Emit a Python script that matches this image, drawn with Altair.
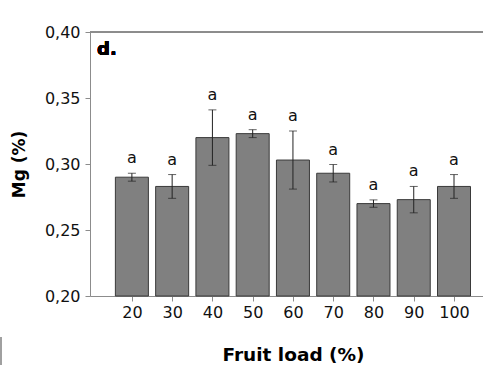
import altair as alt
import pandas as pd

# Fruit load treatments (%) and leaf Mg concentration (%)
loads = [20, 30, 40, 50, 60, 70, 80, 90, 100]
mg = [0.290, 0.283, 0.320, 0.323, 0.303, 0.293, 0.270, 0.273, 0.283]
se = [0.003, 0.009, 0.021, 0.003, 0.022, 0.0066, 0.0028, 0.010, 0.009]
letters = ["a", "a", "a", "a", "a", "a", "a", "a", "a"]

df = pd.DataFrame({"load": loads, "mg": mg, "se": se, "letter": letters})
df["lo"] = df["mg"] - df["se"]
df["hi"] = df["mg"] + df["se"]

W, H = 393, 264
FONT = "DejaVu Sans"
AXIS_GRAY = "#8c8c8c"

x_scale = alt.Scale(domain=[9.6, 107.2], nice=False, zero=False, padding=0)
y_scale = alt.Scale(domain=[0.20, 0.40], nice=False, zero=False, padding=0)

x_axis = alt.Axis(
    values=loads, title="Fruit load (%)", grid=False,
    domainColor=AXIS_GRAY, tickColor=AXIS_GRAY, tickSize=5,
    labelFont=FONT, labelFontSize=16, labelColor="#111", labelPadding=3,
    titleFont=FONT, titleFontSize=18.5, titleFontWeight="bold", titleColor="#000",
    titleX=203, titleY=58, titleBaseline="middle", titleAlign="center",
)
y_axis = alt.Axis(
    values=[0.20, 0.25, 0.30, 0.35, 0.40], title="Mg (%)", grid=False,
    labelExpr="replace(format(datum.value, '.2f'), '.', ',')",
    domainColor=AXIS_GRAY, tickColor=AXIS_GRAY, tickSize=5,
    labelFont=FONT, labelFontSize=16, labelColor="#111", labelPadding=5,
    titleFont=FONT, titleFontSize=17, titleFontWeight="bold", titleColor="#000",
    titleX=-71, titleY=132, titleAngle=-90, titleBaseline="middle", titleAlign="center",
)

base = alt.Chart(df)

bars = base.mark_bar(size=33, color="#808080", stroke="#3a3a3a", strokeWidth=1).encode(
    x=alt.X("load:Q", scale=x_scale, axis=x_axis),
    y=alt.Y("mg:Q", scale=y_scale, axis=y_axis),
    y2=alt.datum(0.20),
)

whisker = base.mark_rule(color="#222", strokeWidth=1).encode(
    x="load:Q", y="lo:Q", y2="hi:Q"
)
cap_hi = base.mark_tick(orient="horizontal", size=8, thickness=1, color="#222").encode(
    x="load:Q", y="hi:Q"
)
cap_lo = base.mark_tick(orient="horizontal", size=8, thickness=1, color="#222").encode(
    x="load:Q", y="lo:Q"
)

labels = base.mark_text(font=FONT, fontSize=16, baseline="alphabetic", dy=-10, color="#111").encode(
    x="load:Q", y="hi:Q", text="letter:N"
)

# top frame line of the panel
top_line = alt.Chart(df).mark_rule(color=AXIS_GRAY, strokeWidth=1).encode(
    x=alt.value(0), x2=alt.value(W), y=alt.value(0)
)

# edge of the neighbouring frame at the bottom-left corner
edge_line = alt.Chart(df).mark_rule(color="#a0a0a0", strokeWidth=1.5).encode(
    x=alt.value(-89), y=alt.value(305), y2=alt.value(333)
)

panel = alt.Chart(df).mark_text(
    font=FONT, fontSize=18, fontWeight="bold", align="left", baseline="alphabetic", color="#000"
).encode(x=alt.value(7), y=alt.value(23), text=alt.value("d."))

chart = alt.layer(bars, whisker, cap_hi, cap_lo, labels, top_line, edge_line, panel).properties(
    width=W, height=H,
    autosize=alt.AutoSizeParams(type="none"),
    padding={"left": 90, "top": 32, "right": 0, "bottom": 69},
).configure_view(stroke=None).configure(background="white")

chart.save("out.html", embed_options={"renderer": "svg", "actions": False})
